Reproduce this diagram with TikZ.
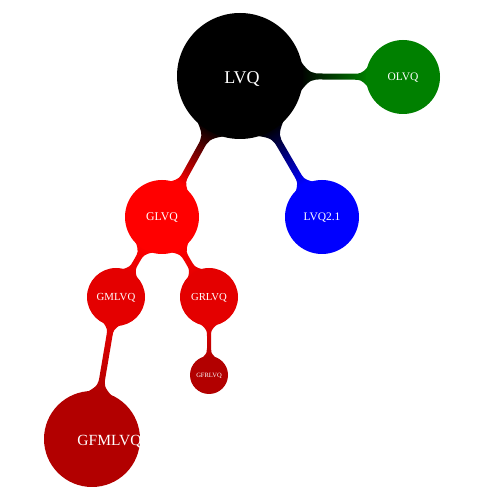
\documentclass[tikz,border=0pt]{standalone}
\usepackage{fontspec}
\setmainfont{Liberation Serif}
\usetikzlibrary{backgrounds}
\definecolor{cgreen}{RGB}{0,128,0}
\definecolor{cred2}{RGB}{228,0,0}
\definecolor{cred3}{RGB}{178,0,0}
\newcommand\linkbar[7]{% from, to, ra, rb, half width, colour from, colour to
  \pgfpointdiff{\pgfpointanchor{#1}{center}}{\pgfpointanchor{#2}{center}}%
  \pgfgetlastxy{\lbdx}{\lbdy}%
  \pgfmathsetmacro\lbAng{atan2(\lbdy,\lbdx)}%
  \pgfmathsetmacro\lbLen{veclen(\lbdx,\lbdy)}%
  \pgfmathsetmacro\lbha{0.19*#3+3}%
  \pgfmathsetmacro\lbhb{0.19*#4+3}%
  \pgfmathsetmacro\lbfa{0.25*#3+3}%
  \pgfmathsetmacro\lbfb{0.25*#4+3}%
  \pgfmathsetmacro\lbxa{sqrt(#3*#3-\lbha*\lbha)-0.5}%
  \pgfmathsetmacro\lbxb{\lbLen-sqrt(#4*#4-\lbhb*\lbhb)+0.5}%
  \pgfmathsetmacro\lbAa{#3+0.35*\lbfa}%
  \pgfmathsetmacro\lbAb{#3+0.5*\lbfa}%
  \pgfmathsetmacro\lbAc{#3+\lbfa}%
  \pgfmathsetmacro\lbBa{\lbLen-#4-0.35*\lbfb}%
  \pgfmathsetmacro\lbBb{\lbLen-#4-0.5*\lbfb}%
  \pgfmathsetmacro\lbBc{\lbLen-#4-\lbfb}%
  \pgfmathsetmacro\lbSh{\lbAng-90}%
  \begin{scope}[shift={(#1.center)}, rotate=\lbAng]
    \shade[bottom color=#6, top color=#7, shading angle=\lbSh]
      (\lbxa,\lbha) .. controls (\lbAa,#5) and (\lbAb,#5) .. (\lbAc,#5)
      -- (\lbBc,#5) .. controls (\lbBb,#5) and (\lbBa,#5) .. (\lbxb,\lbhb)
      -- (\lbxb,-\lbhb) .. controls (\lbBa,-#5) and (\lbBb,-#5) .. (\lbBc,-#5)
      -- (\lbAc,-#5) .. controls (\lbAb,-#5) and (\lbAa,-#5) .. (\lbxa,-\lbha)
      -- cycle;
  \end{scope}%
}
\begin{document}
\begin{tikzpicture}[x=1pt,y=1pt,
  concept/.style={circle, inner sep=0pt, text=white, text depth=0pt, minimum size=#1}]
\useasboundingbox (0,0) rectangle (485,501);
\node[concept=126pt, fill=black,
  label={[text=white, text depth=0pt, font=\fontsize{18}{20}\selectfont, xshift=2pt, yshift=-2pt]center:LVQ}] (lvq) at (240,425) {};
\node[concept=74pt, fill=cgreen, font=\fontsize{11.5}{13}\selectfont] (olvq) at (403,424) {OLVQ};
\node[concept=74pt, fill=red, font=\fontsize{11.8}{13}\selectfont] (glvq) at (162,284) {GLVQ};
\node[concept=74pt, fill=blue, font=\fontsize{11.5}{13}\selectfont] (lvqb) at (322,284) {LVQ2.1};
\node[concept=58pt, fill=cred2, font=\fontsize{10.8}{12}\selectfont] (gmlvq) at (116,204) {GMLVQ};
\node[concept=58pt, fill=cred2, font=\fontsize{10.7}{12}\selectfont] (grlvq) at (209,204) {GRLVQ};
\node[concept=38pt, fill=cred3, font=\fontsize{6.5}{7}\selectfont] (gfrlvq) at (209,126) {GFRLVQ};
\node[concept=96pt, fill=cred3,
  label={[text=white, text depth=0pt, font=\fontsize{15.5}{17}\selectfont, xshift=17.5pt, yshift=-1pt]center:GFMLVQ}] (gfmlvq) at (92,62) {};
\begin{pgfonlayer}{background}
\linkbar{lvq}{olvq}{63}{37}{3}{black}{cgreen}
\linkbar{lvq}{glvq}{63}{37}{3.5}{black}{red}
\linkbar{lvq}{lvqb}{63}{37}{3.5}{black}{blue}
\linkbar{glvq}{gmlvq}{37}{29}{3}{red}{cred2}
\linkbar{glvq}{grlvq}{37}{29}{3}{red}{cred2}
\linkbar{gmlvq}{gfmlvq}{29}{48}{3}{cred2}{cred3}
\linkbar{grlvq}{gfrlvq}{29}{19}{2}{cred2}{cred3}
\end{pgfonlayer}
\end{tikzpicture}
\end{document}
